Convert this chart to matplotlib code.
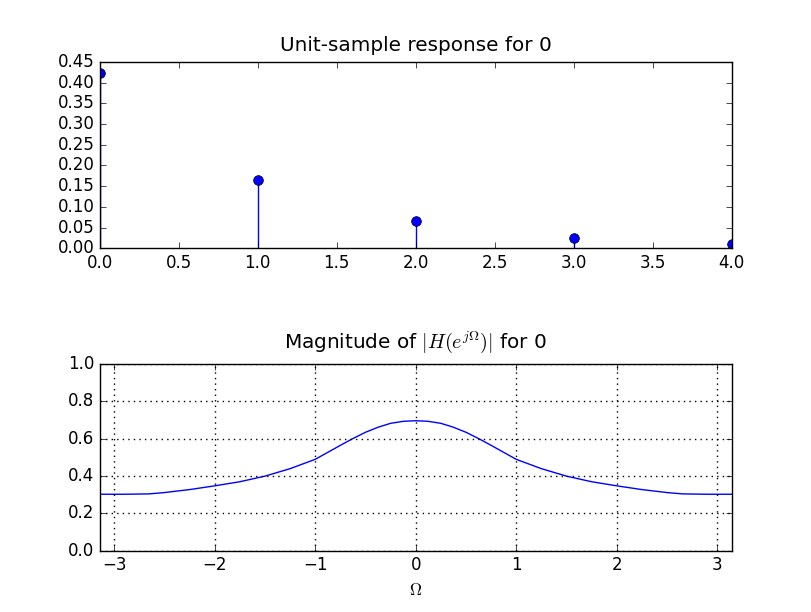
import numpy as np
import matplotlib
matplotlib.use('Agg')
import matplotlib.pyplot as plt

plt.style.use('classic')

# unit-sample response h[n]
n = [0, 1, 2, 3, 4]
h = [0.423, 0.166, 0.065, 0.025, 0.0098]

# magnitude response
omega = [-3.1416, -2.9, -2.65, -2.5, -2.25, -2.0, -1.75, -1.5, -1.25, -1.0,
         -0.75, -0.63, -0.5, -0.37, -0.25, -0.12, 0.0, 0.12, 0.25, 0.37,
         0.5, 0.63, 0.75, 1.0, 1.25, 1.5, 1.75, 2.0, 2.25, 2.5, 2.65, 2.9, 3.1416]
mag = [0.303, 0.303, 0.305, 0.312, 0.328, 0.348, 0.37, 0.40, 0.44, 0.49,
       0.565, 0.60, 0.635, 0.663, 0.683, 0.694, 0.697, 0.694, 0.683, 0.663,
       0.635, 0.60, 0.565, 0.49, 0.44, 0.40, 0.37, 0.348, 0.328, 0.312, 0.305, 0.303, 0.303]


def main():
    fig = plt.figure(figsize=(8.12, 6.12), dpi=100, facecolor='white')
    fig.subplots_adjust(left=0.123, right=0.901, bottom=0.1, top=0.899, hspace=0.62)

    ax1 = fig.add_subplot(2, 1, 1)
    marcas, hastes, base = ax1.stem(n, h, linefmt='b-', markerfmt='bo', basefmt='k-')
    plt.setp(marcas, markersize=7, markeredgecolor='k', markeredgewidth=0.5)
    plt.setp(hastes, linewidth=1)
    base.set_visible(False)
    ax1.set_xlim(0, 4)
    ax1.set_ylim(0, 0.45)
    ax1.set_yticks(np.arange(0, 0.451, 0.05))
    ax1.set_title('Unit-sample response for 0', fontsize=14.4, y=1.02)

    ax2 = fig.add_subplot(2, 1, 2)
    ax2.plot(omega, mag, 'b-', linewidth=1)
    ax2.set_xlim(-np.pi, np.pi)
    ax2.set_ylim(0, 1.0)
    ax2.set_yticks(np.arange(0, 1.01, 0.2))
    ax2.grid(True, color='k', linestyle=':', linewidth=1)
    ax2.set_xlabel(r'$\Omega$')
    ax2.set_title(r'Magnitude of $|H(e^{j\Omega})|$ for 0', fontsize=14.4, y=1.05)

    fig.savefig('out.png', dpi=100, facecolor='white')


if __name__ == "__main__":
    main()
